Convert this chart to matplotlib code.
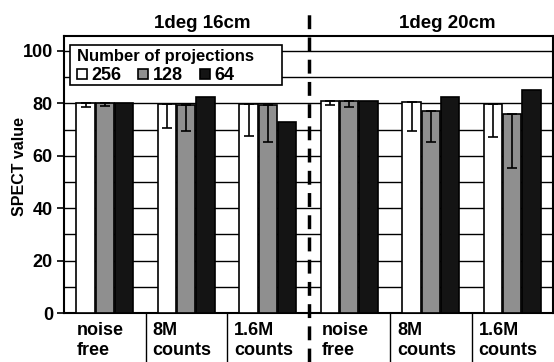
import matplotlib
matplotlib.use("Agg")
import matplotlib.pyplot as plt
import matplotlib.transforms as mtrans
from matplotlib.lines import Line2D
from matplotlib.patches import Rectangle
import numpy as np

plt.rcParams['font.family'] = ['Liberation Sans', 'DejaVu Sans']
plt.rcParams['font.weight'] = 'bold'
plt.rcParams['axes.labelweight'] = 'bold'

groups = ["noise\nfree", "8M\ncounts", "1.6M\ncounts", "noise\nfree", "8M\ncounts", "1.6M\ncounts"]
panels = ["1deg 16cm", "1deg 20cm"]
series = ["256", "128", "64"]
vals_256 = [80.3, 79.6, 79.6, 80.9, 80.7, 79.8]
vals_128 = [80.0, 79.4, 79.4, 80.9, 77.1, 75.8]
vals_64 = [80.0, 82.6, 72.8, 80.9, 82.6, 85.1]
err_256 = [1.7, 8.9, 11.9, 1.5, 11.2, 12.5]
err_128 = [1.0, 9.9, 14.0, 2.3, 12.0, 20.3]
err_64 = [0, 0, 0, 0, 0, 0]

colors = ["white", "#8f8f8f", "#141414"]

fig = plt.figure(figsize=(5.54, 3.62), dpi=100)
ax = fig.add_axes([64/554, 1-313/362, 489/554, 277/362])

x = np.arange(len(groups))
w = 0.225
offs = [-0.235, 0.0, 0.235]
allv = [vals_256, vals_128, vals_64]
alle = [err_256, err_128, err_64]
for i in range(3):
    ax.bar(x + offs[i], allv[i], width=w, color=colors[i], edgecolor='black',
           linewidth=1.2, zorder=3)
    e = np.array(alle[i])
    mask = e > 0
    ax.errorbar((x + offs[i])[mask], np.array(allv[i])[mask],
                yerr=[e[mask], np.zeros(mask.sum())], fmt='none',
                ecolor='black', elinewidth=1.2, capsize=3.5, capthick=1.2, zorder=4)

ax.set_xlim(-0.5, 5.5)
ax.set_ylim(0, 105.7)
ax.set_yticks([0, 20, 40, 60, 80, 100])
ax.set_yticks([10, 30, 50, 70, 90], minor=True)
ax.tick_params(axis='y', which='minor', length=0)
ax.tick_params(axis='y', which='major', labelsize=13, length=5, width=1.2, pad=3)
ax.set_xticks([])
ax.grid(axis='y', which='both', color='black', linewidth=1.0, zorder=0)
ax.set_axisbelow(True)
for s in ax.spines.values():
    s.set_linewidth(1.5)
ax.set_ylabel("SPECT value", fontsize=11.5, fontweight='bold')
ax.yaxis.set_label_coords(27/554, 1 - 167/362, transform=fig.transFigure)

trans = mtrans.blended_transform_factory(ax.transData, fig.transFigure)
for i, g in enumerate(groups):
    ax.text(i - 0.05, 1 - 322/362, g, transform=trans, ha='center', va='top',
            multialignment='left', fontsize=13, linespacing=1.2)
for b in [0.5, 1.5, 3.5, 4.5]:
    ax.add_line(Line2D([b, b], [0, 1 - 313/362], transform=trans, color='black',
                       linewidth=1.0, clip_on=False))
ax.add_line(Line2D([2.5, 2.5], [0, 1 - 12/362], transform=trans, color='black',
                   linewidth=2.5, linestyle=(0, (4, 2.4)), clip_on=False, zorder=6))

ax.text(1.2, 1 - 23/362, panels[0], transform=trans, ha='center', va='center', fontsize=13.5)
ax.text(4.2, 1 - 23/362, panels[1], transform=trans, ha='center', va='center', fontsize=13.5)

# legend frame
ax.add_patch(Rectangle((6/489, (313-85)/277), (282-70)/489, 40/277,
                       transform=ax.transAxes, facecolor='white', edgecolor='black',
                       linewidth=1.2, zorder=5))
handles = [Line2D([], [], linestyle='none', marker='s', markersize=6.5,
                  markerfacecolor=c, markeredgecolor='black', markeredgewidth=1.2)
           for c in colors]
leg = ax.legend(handles, series, title="Number of projections", ncol=3,
                loc='upper left', bbox_to_anchor=(11/489, (313-47)/277), fontsize=13,
                title_fontsize=12, frameon=False,
                handlelength=0.55, handletextpad=0.25,
                columnspacing=0.95, borderpad=0.1, borderaxespad=0,
                labelspacing=0.2, alignment='left')
leg.get_title().set_fontweight('bold')
leg.set_zorder(6)

fig.savefig("out.png", dpi=100)
